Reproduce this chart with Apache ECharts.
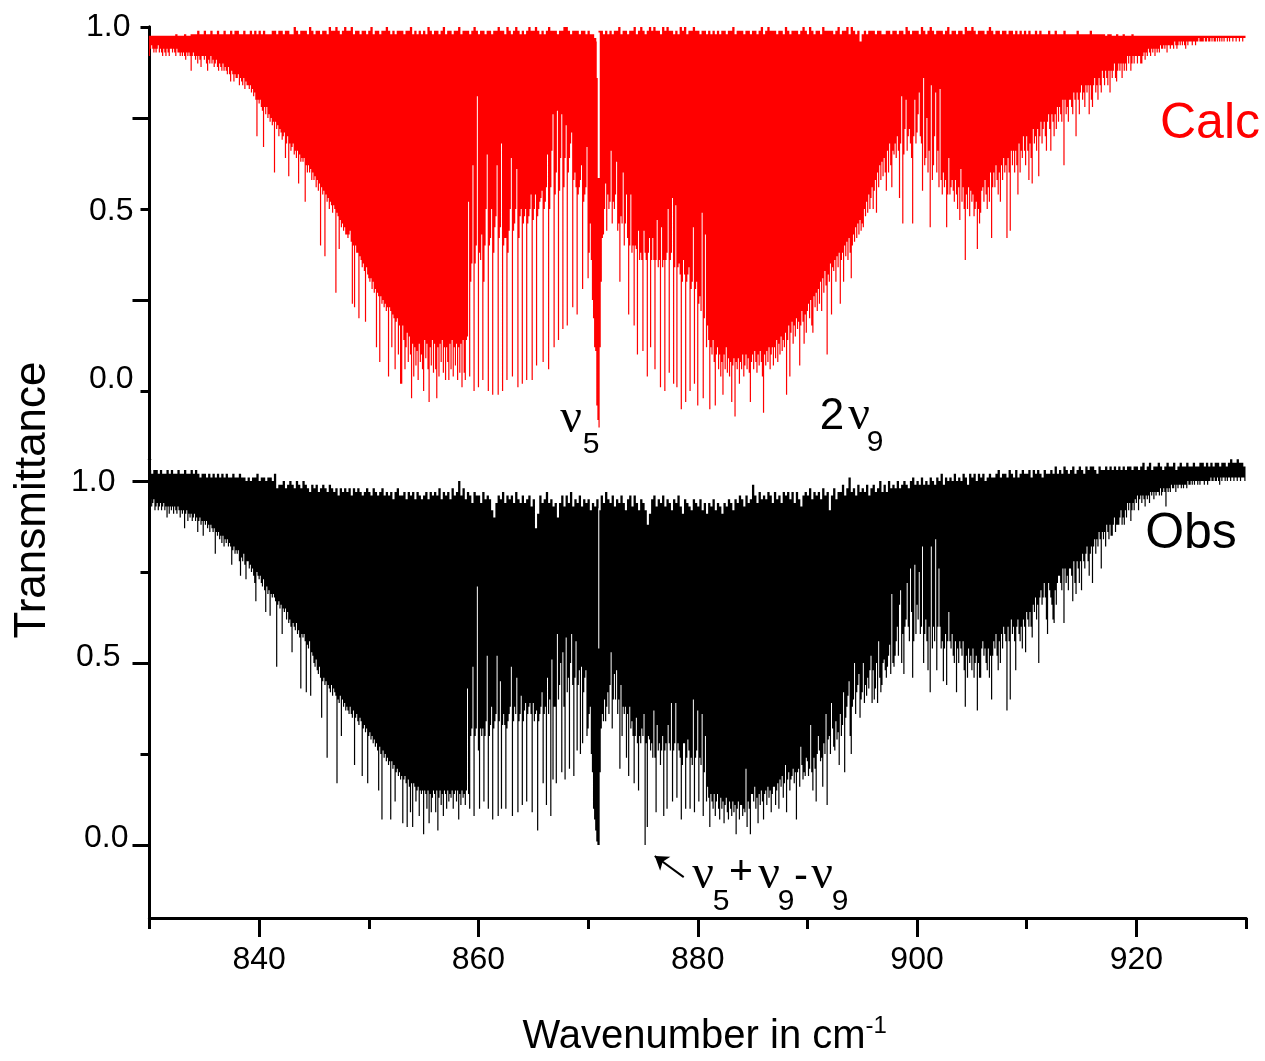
<!DOCTYPE html>
<html>
<head>
<meta charset="utf-8">
<title>Transmittance</title>
<style>
html, body { margin: 0; padding: 0; background: #fff; }
#chart { width: 1265px; height: 1061px; }
</style>
<script src="https://cdn.jsdelivr.net/npm/echarts@6/dist/echarts.min.js"></script>
</head>
<body>
<div id="chart"></div>
<script>
// x axis ticks
var majorTicks = [840, 860, 880, 900, 920];
var minorTicks = [830, 850, 870, 890, 910, 930];

// lowest transmittance (%), one row per cm-1 from 830, ten columns per row
var calcLow = [
[92,94,95,94,93,94,93,94,95,93],[94,93,92,94,93,92,94,93,92,94],[94,93,94,93,92,94,93,93,92,93],[92,93,92,91,93,92,93,92,88,92],[93,92,91,92,90,92,91,89,92,92],
[91,92,90,88,91,90,92,90,91,89],[90,91,89,88,90,89,88,90,88,89],[88,87,89,87,85,88,87,85,87,86],[86,87,84,86,85,84,86,83,85,84],[84,83,84,82,83,81,82,80,70,80],
[79,80,78,77,67,78,76,78,75,76],[74,75,73,74,60,74,72,73,70,72],[71,69,70,71,64,68,70,59,68,66],[67,68,65,66,64,66,57,65,63,64],[63,64,52,62,60,62,60,61,58,60],
[58,59,56,58,55,57,40,56,54,55],[37,54,52,53,50,52,51,49,51,50],[27,49,48,39,47,45,46,44,45,43],[43,42,43,44,41,24,40,23,40,38],[38,20,37,36,34,35,33,19,34,32],
[31,30,31,28,30,27,28,12,27,26],[8,26,24,25,23,24,22,23,4,23],[22,12,21,20,6,19,20,10,18,2],[2,18,14,6,12,16,8,15,10,-2],[13,4,12,7,11,3,13,8,10,6],
[0,14,9,13,6,-3,12,7,14,5],[13,6,-2,12,4,13,8,14,5,12],[3,12,8,3,13,6,14,4,12,7],[13,3,12,5,13,1,14,5,3,14],[15,52,4,30,35,62,0,35,40,81],
[1,38,36,43,3,30,40,50,65,0],[40,42,50,-1,38,45,48,62,-1,42],[45,68,0,40,42,42,3,38,44,50],[64,4,44,46,50,61,1,42,48,50],[2,46,48,50,3,46,48,50,54,3],
[47,50,54,7,48,50,52,53,55,8],[50,52,56,65,6,50,56,66,76,12],[54,60,77,14,55,64,76,17,56,64],[73,18,60,64,68,71,23,58,60,56],[21,54,56,58,62,28,52,54,56,67],
[31,38,46,36,25,20,12,11,-4,-8],[-10,12,30,42,43,50,57,44,54,50],[52,66,46,52,50,54,63,44,46,30],[48,46,60,40,46,54,42,21,40,54],[38,40,18,40,39,10,44,36,38,36],
[11,44,38,36,4,38,42,12,36,42],[36,6,36,47,34,36,1,45,34,36],[0,36,38,50,5,36,38,53,2,34],[51,1,34,35,32,-5,30,36,32,-3],[30,32,34,0,28,30,45,2,28,30],
[-4,24,26,22,49,-2,20,43,12,18],[14,-5,12,10,14,8,-4,10,12,6],[10,4,8,-1,10,6,12,5,9,4],[8,-3,7,9,-7,8,6,9,2,8],[6,10,4,7,10,6,9,5,-3,8],
[10,6,11,8,5,10,7,11,8,4],[-6,10,7,11,8,12,6,10,12,7],[12,9,14,8,13,10,15,11,14,12],[16,-1,14,18,4,16,19,13,18,15],[20,17,19,7,18,22,19,13,21,16],
[22,24,20,25,18,16,26,23,27,22],[28,24,30,22,31,27,33,29,10,32],[30,35,21,34,33,36,30,37,34,38],[24,36,38,30,40,37,41,36,42,38],[31,40,43,41,45,42,46,43,47,44],
[46,45,50,48,52,49,54,50,53,56],[50,55,58,49,60,56,62,58,63,59],[64,60,55,66,60,68,62,56,66,65],[68,64,70,66,53,68,81,46,65,72],[80,66,70,72,68,64,46,70,80,68],
[71,76,82,70,68,55,86,62,64,75],[60,66,45,84,58,62,70,82,60,66],[56,83,58,54,60,56,58,45,54,64],[54,56,58,55,52,58,54,50,56,47],[61,52,56,50,36,54,50,56,48,55],
[52,54,48,50,52,39,50,46,49,55],[56,52,58,54,50,56,52,60,42,56],[60,56,62,58,54,60,52,62,58,64],[60,62,42,64,60,44,66,62,66,60],[66,62,54,68,60,66,64,70,66,62],
[70,66,58,68,64,57,72,68,70,66],[72,59,70,74,68,72,74,70,66,74],[76,72,66,76,74,70,76,72,78,74],[78,76,74,80,62,80,76,78,74,80],[80,78,76,82,80,70,82,80,76,82],
[84,80,82,78,84,82,84,76,84,80],[78,84,86,82,84,80,86,84,82,88],[86,84,88,86,84,88,82,88,86,88],[90,86,85,88,90,88,90,86,90,88],[90,88,92,90,92,88,90,92,90,92],
[92,90,92,92,90,90,92,93,91,93],[92,94,93,92,94,93,94,92,94,93],[94,93,95,94,94,95,94,95,93,95],[95,94,95,95,94,96,95,94,95,96],[95,96,95,96,95,94,96,95,96,96],
[96,95,96,96,95,96,96,97,96,96],[96,96,97,96,96,97,96,96,97,96],[97,96,96,97,96,97,96,97,96,97],[96,97,97,96,97,96,97,97,96,97],[97,96,97,97,96,97,97,96,97,97]
];

// top edge of the red trace (%), one row per cm-1, five columns per row
var calcTop = [
[97.6,97.6,97.6,97.6,97.6],[97.6,97.6,97.6,97.6,97.6],[97.6,97.6,98,97.6,97.6],[97.6,98,97.6,97.6,98],[98,98,99,98,98],
[99,98,98,99,98],[98,99,98,98,99],[98,98,99,98,99],[99,98,98,99,98],[98,99,98,99,98],
[99,98,99,98,98],[98,99,99,98,99],[99,98,99,99,98],[98,100,99,98,99],[99,99,98,100,99],
[98,99,99,98,99],[99,98,100,99,99],[100,99,98,99,100],[99,99,100,98,99],[99,98,99,99,98],
[99,100,98,99,99],[98,99,99,100,99],[98,99,98,99,99],[99,98,99,99,100],[98,99,98,99,98],
[99,98,100,99,98],[99,99,98,99,100],[98,99,99,98,99],[99,100,98,99,99],[99,98,99,100,99],
[98,99,99,98,99],[99,98,99,99,100],[99,99,98,100,99],[98,99,100,99,98],[99,98,99,100,99],
[99,100,99,98,99],[98,99,100,99,99],[99,98,99,99,100],[100,99,98,99,99],[99,98,99,99,98],
[99,98,98,97,96],[99,99,98,99,98],[99,98,99,99,100],[98,99,99,98,99],[99,100,98,99,100],
[99,98,99,100,99],[100,99,99,98,100],[99,100,99,99,98],[99,98,100,99,100],[98,99,99,100,99],
[99,98,99,99,98],[99,98,99,98,99],[98,99,99,98,99],[99,100,98,99,99],[99,98,99,99,98],
[99,99,98,99,100],[98,99,100,99,99],[99,98,99,99,98],[100,99,98,99,99],[99,98,99,100,99],
[98,100,99,98,99],[99,98,100,99,99],[99,99,98,99,100],[98,99,99,100,98],[100,99,98,99,96],
[98,99,98,99,99],[99,98,99,99,98],[98,99,99,98,99],[99,98,99,99,98],[100,99,98,99,99],
[99,98,100,99,98],[99,100,99,98,99],[99,99,98,99,100],[98,99,99,98,99],[99,98,100,99,99],
[100,99,98,99,99],[99,98,99,100,99],[98,99,99,98,99],[99,98,99,99,98],[99,98,99,98,99],
[98,99,98,98,99],[98,99,98,98,98],[99,98,98,99,98],[98,98,99,98,98],[98,98,98,99,98],
[98,98,98,98,99],[98,98,98,98,98],[98,97.6,98,98,97.6],[97.6,98,97.6,97.6,98],[97.6,97.6,97.6,98,97.6],
[97.6,97.6,97.6,97.6,97.6],[97.6,97.6,97.6,97.6,97.6],[97.6,97.6,97.6,97.6,97.6],[97.6,97.6,97.6,97.6,97.6],[97.6,97.6,97.6,97.6,97.6],
[97.6,97.6,97.6,97.6,97.6],[97.6,97.6,97.6,97.6,97.6],[97.6,97.6,97.6,97.6,97.6],[97.6,97.6,97.6,97.6,97.6],[97.6,97.6,97.6,97.6,97.6]
];

var obsLow = [
[92,95,93,94,95,92,93,94,92,93],[94,92,93,94,92,93,90,93,91,93],[92,93,91,93,92,91,93,92,90,92],[91,92,87,91,92,89,91,90,91,89],[90,91,89,90,86,89,90,88,89,85],
[89,88,89,87,88,86,88,87,86,87],[80,86,85,86,84,85,83,85,82,84],[83,84,82,83,82,77,81,82,80,81],[80,81,78,74,79,78,80,77,73,78],[78,76,77,75,76,74,72,67,75,74],
[73,74,72,71,73,70,64,71,69,70],[63,69,68,69,68,67,49,66,67,65],[66,58,65,64,65,62,64,61,62,60],[53,61,60,59,61,58,59,57,43,58],[57,58,56,42,55,54,56,41,53,52],
[50,49,51,48,47,49,46,35,45,46],[44,45,24,44,43,42,44,41,43,42],[41,17,40,39,41,30,40,38,39,37],[38,37,36,38,36,35,37,22,35,36],[34,33,35,34,19,32,33,31,32,17],
[30,31,29,30,28,29,27,28,26,15],[27,25,7,26,24,25,23,24,22,23],[7,23,21,22,12,20,21,19,20,18],[19,6,18,19,17,5,18,16,9,17],[5,17,16,12,15,16,8,15,14,15],
[3,15,14,10,15,6,14,9,13,15],[14,9,15,4,13,15,11,14,8,15],[14,10,15,12,14,13,15,10,14,15],[12,15,7,14,11,15,13,14,11,15],[43,14,10,30,32,49,8,30,32,71],
[26,10,32,30,32,12,30,34,52,10],[30,33,38,7,32,34,36,52,8,34],[45,10,33,36,33,10,32,34,36,38],[49,8,34,38,36,46,9,34,36,41],[11,34,37,39,12,36,38,39,36,9],
[39,34,36,37,4,34,36,38,42,17],[36,38,11,46,36,40,8,51,18,38],[38,17,58,40,44,50,20,53,38,18],[57,42,46,21,50,58,44,19,46,56],[26,44,48,25,49,28,42,46,48,30],
[32,36,38,25,20,10,7,4,1,0],[0,20,32,36,34,40,34,38,42,36],[44,53,32,40,47,40,48,36,40,21],[44,30,38,36,38,24,36,19,38,32],[34,30,17,30,35,28,15,30,28,32],
[30,36,0,28,5,30,29,26,28,24],[37,24,9,33,26,28,22,26,30,8],[26,28,10,33,28,26,39,12,26,28],[39,13,28,26,24,7,22,28,28,10],[24,29,26,10,24,22,40,9,24,26],
[37,12,24,22,36,8,20,30,12,16],[13,5,14,12,10,14,8,12,14,10],[7,13,10,12,6,11,13,9,7,12],[10,8,12,9,11,3,10,12,7,11],[11,8,10,9,21,5,12,10,3,14],
[14,12,16,10,13,6,14,11,15,12],[7,14,15,11,16,13,15,9,14,16],[16,11,15,17,10,18,16,19,13,17],[22,9,18,20,15,18,19,21,17,20],[7,20,21,16,27,22,18,20,19,24],
[23,19,21,33,20,15,24,21,12,25],[30,26,23,24,16,28,25,36,11,29],[30,25,39,32,27,26,34,29,31,22],[36,30,33,42,20,35,38,41,45,30],[25,38,40,50,36,42,44,47,35,40],
[42,50,39,44,41,46,43,48,52,39],[48,40,43,50,39,56,46,42,44,50],[51,48,46,49,52,55,47,69,50,49],[52,56,60,52,66,70,50,58,47,60],[62,72,60,56,76,64,46,56,77,58],
[66,62,75,58,60,82,50,58,62,56],[48,60,42,82,54,60,56,84,48,60],[76,60,54,56,45,54,58,44,56,64],[56,54,58,52,50,56,42,54,50,56],[54,52,56,48,38,52,46,54,50,52],
[48,54,46,50,52,37,50,46,46,54],[56,52,54,50,48,54,46,52,40,52],[56,54,58,52,48,56,50,58,54,60],[58,56,37,60,56,40,62,58,60,56],[48,60,62,58,56,60,54,62,60,53],
[64,62,60,64,60,57,66,64,68,62],[66,50,68,70,66,68,72,68,62,58],[72,70,68,66,62,61,70,66,72,74],[74,72,70,76,61,76,72,74,70,76],[76,74,67,78,72,69,78,76,72,78],
[70,80,78,76,80,82,78,74,80,82],[72,82,84,80,84,82,86,84,76,86],[84,86,82,88,86,84,88,85,85,88],[90,86,88,88,88,90,92,88,90,88],[92,90,94,92,94,89,92,94,92,95],
[94,96,92,95,96,94,96,95,93,96],[95,96,94,97,96,97,95,97,96,97],[97,96,98,96,97,98,97,93,98,97],[98,97,99,98,98,99,97,99,98,99],[99,98,99,98,99,99,98,100,99,99],
[100,99,100,99,100,100,99,100,99,100],[100,100,99,100,100,99,100,100,101,100],[100,101,100,100,101,100,99,101,100,101],[101,100,101,100,101,101,100,101,101,100],[101,101,100,101,101,100,101,101,101,100]
];

var obsTop = [
[103,102,103,103,102],[103,102,102,103,102],[103,102,102,103,102],[102,103,102,102,103],[102,103,102,101,102],
[102,101,102,101,102],[101,102,101,102,101],[102,101,101,102,101],[101,102,101,101,100],[101,100,101,101,102],
[100,101,101,100,101],[101,100,102,98,99],[99,100,98,99,100],[99,98,100,99,98],[100,99,98,97,99],
[98,99,97,98,99],[98,97,99,98,97],[98,96,98,97,98],[97,98,96,98,97],[98,97,96,97,98],
[97,96,98,97,96],[97,98,96,97,96],[97,95,97,98,96],[96,97,95,97,96],[97,95,97,96,95],
[96,97,95,97,96],[97,96,98,95,97],[96,97,95,98,96],[97,100,96,98,95],[97,96,94,97,96],
[96,94,97,95,96],[95,92,90,94,96],[95,97,94,96,95],[96,94,97,95,94],[96,94,95,96,93],
[95,87,91,96,94],[95,97,94,95,93],[94,90,94,96,93],[96,94,97,93,95],[94,96,93,95,94],
[95,92,94,93,95],[92,96,94,97,95],[94,96,93,95,94],[96,94,92,95,96],[93,96,94,92,95],
[94,92,88,91,95],[96,93,95,94,96],[93,95,94,92,95],[94,96,93,91,95],[94,93,92,95,94],
[93,95,92,94,91],[94,93,95,92,94],[93,91,94,93,95],[94,92,95,94,96],[95,93,96,94,95],
[99,96,94,97,95],[96,95,97,96,94],[97,95,96,94,97],[96,97,95,97,94],[97,95,93,96,97],
[96,98,95,97,96],[97,95,98,96,97],[92,96,98,95,97],[97,99,96,98,101],[97,98,96,99,97],
[98,97,99,96,98],[99,97,98,100,97],[99,97,100,98,99],[98,100,98,99,100],[99,98,100,101,99],
[100,99,101,99,100],[99,101,100,99,101],[100,102,99,101,100],[101,100,102,100,101],[100,102,101,99,102],
[101,102,100,102,101],[102,100,101,102,101],[101,102,103,101,102],[102,101,103,102,101],[103,101,102,103,102],
[102,103,101,103,102],[103,102,101,103,102],[102,103,102,104,102],[103,102,104,103,102],[103,104,102,103,104],
[103,102,104,103,104],[104,103,102,104,103],[103,104,103,104,103],[104,103,104,103,104],[103,104,104,103,104],
[104,103,104,105,103],[104,105,103,104,104],[105,104,103,104,105],[104,104,105,103,104],[105,104,104,105,104],
[104,105,104,104,105],[105,104,105,104,105],[104,105,105,104,105],[105,104,105,106,105],[105,106,105,105,104]
];

// bright slits where the band centre leaves the trace open near the top
var calcSlitWn = [870.88, 870.97];
var calcSlitTop = [0.985, 0.985];
var calcSlitLow = [0.86, 0.585];
var obsSlitWn = [870.97];
var obsSlitTop = [0.925];
var obsSlitLow = [0.54];

// arrow pointing at the hot band line
var arrowTip = [876.08, -0.03];
var arrowTail = [878.72, -0.088];

// one vertical stroke per column, null breaks the line between strokes
function buildColumns(lowRows, topRows) {
    var pts = [];
    lowRows.forEach(function (row, r) {
        row.forEach(function (low, c) {
            var wn = 830 + r + c / 10;
            var top = topRows[r][Math.floor(c / 2)];
            pts.push([wn, top / 100], [wn, low / 100], [wn, null]);
        });
    });
    return pts;
}

function buildSlits(wns, tops, lows) {
    var pts = [];
    wns.forEach(function (wn, i) {
        pts.push([wn, tops[i]], [wn, lows[i]], [wn, null]);
    });
    return pts;
}

function yLabels(styles) {
    return {
        customValues: [0, 0.5, 1],
        color: '#000',
        formatter: function (v) {
            return '{s' + Math.round(v * 10) + '|' + v.toFixed(1) + '}';
        },
        rich: styles
    };
}

function txt(text, x, y, font, fill, rotation) {
    return {
        type: 'text', x: x, y: y, rotation: rotation || 0,
        style: { text: text, font: font, fill: fill || '#000', align: 'center', verticalAlign: 'middle' }
    };
}

var SANS = '"Liberation Sans"';
var SERIF = '"Liberation Serif"';
var nuFont = '48px ' + SERIF;
var subFont = '30px ' + SANS;
var labelFont = { fontFamily: SANS, fontSize: 32, color: '#000' };
var axisStroke = { color: '#000', width: 3 };

var topRich = {
    s0: Object.assign({ padding: [0, 0, 24, 0] }, labelFont),
    s5: Object.assign({ padding: [4, 0, 0, 0] }, labelFont),
    s10: Object.assign({ padding: [0, 3, 0, 0] }, labelFont)
};
var bottomRich = {
    s0: Object.assign({ padding: [0, 0, 14, 0] }, labelFont),
    s5: Object.assign({ padding: [0, 8, 12, 0] }, labelFont),
    s10: Object.assign({ padding: [2, 13, 0, 0] }, labelFont)
};

function yAxisOf(grid, min, max, tickValues, tickLen, label) {
    return {
        type: 'value', gridIndex: grid, position: 'left', min: min, max: max,
        axisLine: { show: true, onZero: false, lineStyle: axisStroke },
        axisTick: { show: true, length: tickLen, customValues: tickValues, lineStyle: axisStroke },
        axisLabel: label || { show: false },
        splitLine: { show: false }
    };
}

var chart = echarts.init(document.getElementById('chart'), null, { renderer: 'canvas' });
chart.setOption({
    animation: false,
    backgroundColor: '#fff',
    grid: [
        { left: 149.5, width: 1096.5, top: 27, height: 436.8 },
        { left: 149.5, width: 1096.5, top: 459.2, height: 458.7 }
    ],
    xAxis: [
        { type: 'value', gridIndex: 0, min: 830, max: 930, show: false },
        {
            type: 'value', gridIndex: 1, position: 'bottom', min: 830, max: 930,
            name: '{t|Wavenumber in cm}{e|-1}', nameLocation: 'middle', nameGap: 96,
            nameTextStyle: {
                rich: {
                    t: { fontFamily: SANS, fontSize: 40, color: '#000', padding: [0, 0, 0, 14] },
                    e: { fontFamily: SANS, fontSize: 24, color: '#000', padding: [0, 0, 22, 0] }
                }
            },
            axisLine: { onZero: false, lineStyle: axisStroke },
            axisTick: { length: 19, customValues: majorTicks, lineStyle: axisStroke },
            axisLabel: { customValues: majorTicks, margin: 26, fontFamily: SANS, fontSize: 32, color: '#000' },
            splitLine: { show: false }
        },
        {
            type: 'value', gridIndex: 1, position: 'bottom', min: 830, max: 930,
            axisLine: { onZero: false, lineStyle: axisStroke },
            axisTick: { length: 11, customValues: minorTicks, lineStyle: axisStroke },
            axisLabel: { show: false },
            splitLine: { show: false }
        }
    ],
    yAxis: [
        yAxisOf(0, -0.2, 1, [0, 0.5, 1], 9, Object.assign({ margin: 16 }, yLabels(topRich))),
        yAxisOf(0, -0.2, 1, [0.25, 0.75], 17),
        yAxisOf(1, -0.2, 1.06, [0, 0.5, 1], 17, Object.assign({ margin: 21 }, yLabels(bottomRich))),
        yAxisOf(1, -0.2, 1.06, [0.25, 0.75], 9)
    ],
    series: [
        {
            name: 'Calc', type: 'line', xAxisIndex: 0, yAxisIndex: 0, clip: false,
            showSymbol: false, silent: true, connectNulls: false,
            lineStyle: { color: '#ff0000', width: 1.2 },
            data: buildColumns(calcLow, calcTop)
        },
        {
            name: 'Calc slit', type: 'line', xAxisIndex: 0, yAxisIndex: 0, clip: false,
            showSymbol: false, silent: true,
            lineStyle: { color: '#fff', width: 2 },
            data: buildSlits(calcSlitWn, calcSlitTop, calcSlitLow)
        },
        {
            name: 'Obs', type: 'line', xAxisIndex: 1, yAxisIndex: 2, clip: false,
            showSymbol: false, silent: true, connectNulls: false,
            lineStyle: { color: '#000', width: 1.2 },
            data: buildColumns(obsLow, obsTop),
            markLine: {
                silent: true, animation: false,
                symbol: ['arrow', 'none'], symbolSize: 13,
                label: { show: false },
                lineStyle: { color: '#000', width: 2, type: 'solid' },
                data: [[{ coord: arrowTip }, { coord: arrowTail }]]
            }
        },
        {
            name: 'Obs slit', type: 'line', xAxisIndex: 1, yAxisIndex: 2, clip: false,
            showSymbol: false, silent: true,
            lineStyle: { color: '#ddd', width: 1.2 },
            data: buildSlits(obsSlitWn, obsSlitTop, obsSlitLow)
        }
    ],
    graphic: [
        txt('Transmittance', 33, 500, '44px ' + SANS, '#000', Math.PI / 2),
        txt('Calc', 1210, 124, '50px ' + SANS, '#ff0000'),
        txt('Obs', 1191, 534, '50px ' + SANS),
        txt('\u03bd', 571, 419, nuFont),
        txt('5', 591, 445, subFont),
        txt('2', 832, 417, '44px ' + SANS),
        txt('\u03bd', 859, 416, nuFont),
        txt('9', 875, 443, subFont),
        txt('\u03bd', 703, 875, nuFont),
        txt('5', 721, 902, subFont),
        txt('+', 741, 873, '41px ' + SANS),
        txt('\u03bd', 769, 875, nuFont),
        txt('9', 786, 902, subFont),
        txt('-', 801, 877, '42px ' + SANS),
        txt('\u03bd', 822, 875, nuFont),
        txt('9', 840, 902, subFont)
    ]
});
</script>
</body>
</html>
